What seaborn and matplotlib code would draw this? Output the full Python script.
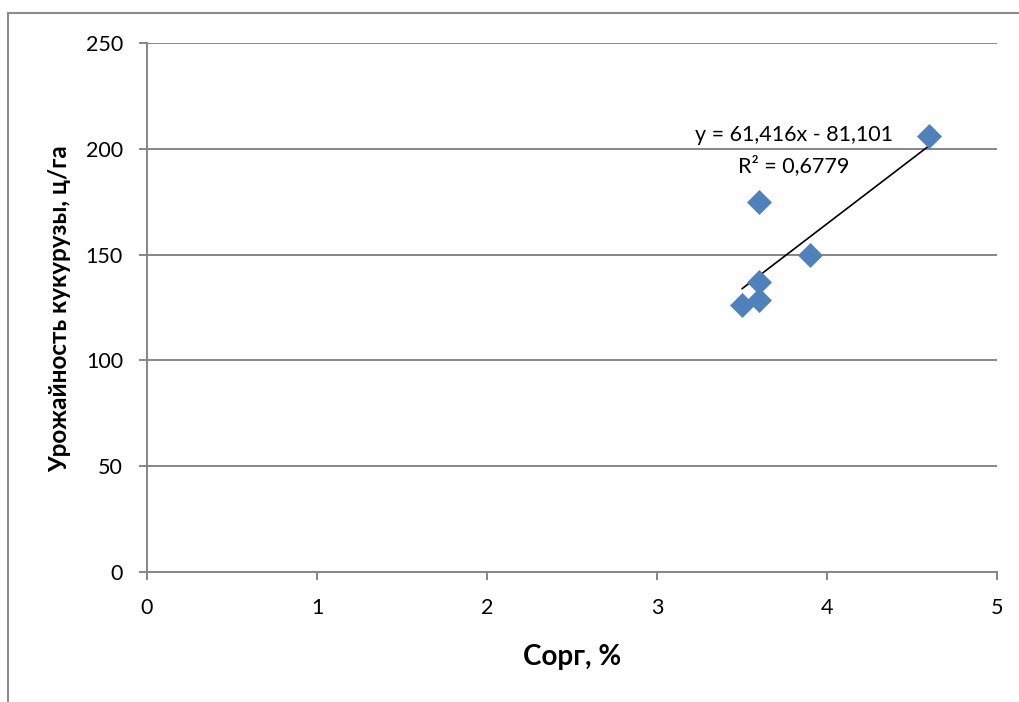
import matplotlib
matplotlib.use("Agg")
import matplotlib.pyplot as plt
import seaborn as sns
import numpy as np
import pandas as pd
from matplotlib.lines import Line2D

# Data
c_org = [4.6, 3.6, 3.9, 3.6, 3.6, 3.5]
yield_corn = [206, 175, 150, 137, 128.5, 126.2]
slope = 61.416
intercept = -81.101
r2_text = "R² = 0,6779"
eq_text = "y = 61,416x - 81,101"
x_ticks = [0, 1, 2, 3, 4, 5]
y_ticks = [0, 50, 100, 150, 200, 250]

sns.set_style("white")
plt.rcParams['font.family'] = ['Lato', 'DejaVu Sans']
plt.rcParams['text.color'] = 'black'

fig = plt.figure(figsize=(10.2, 7.02), dpi=100)
ax = fig.add_axes([147/1020, 1-572/702, (997-147)/1020, (572-43)/702])

df = pd.DataFrame({"x": c_org, "y": yield_corn})

# trendline
xs = np.array([min(c_org), max(c_org)])
trend = pd.DataFrame({"x": xs, "y": slope*xs + intercept})
sns.lineplot(data=trend, x="x", y="y", ax=ax, color="black", linewidth=1.2, zorder=2)

sns.scatterplot(data=df, x="x", y="y", ax=ax, marker="D", s=150, color="#4F81BD",
                edgecolor="#4F81BD", linewidth=0.5, zorder=3)

ax.set_xlim(0, 5)
ax.set_ylim(0, 250)
ax.set_xticks(x_ticks)
ax.set_yticks(y_ticks)
ax.set_xticklabels([str(v) for v in x_ticks])
ax.set_yticklabels([str(v) for v in y_ticks])
ax.yaxis.grid(True, color="#868686", linewidth=1.4)
ax.xaxis.grid(False)
for s in ["top", "right"]:
    ax.spines[s].set_visible(False)
for s in ["left", "bottom"]:
    ax.spines[s].set_color("#868686")
    ax.spines[s].set_linewidth(1.4)
ax.tick_params(axis="both", which="major", labelsize=15.5, length=5.8, width=1.4,
               color="#868686", labelcolor="black", direction="out", left=True, bottom=True)
ax.tick_params(axis="y", pad=11.5)
ax.tick_params(axis="x", pad=13.2)
ax.set_axisbelow(True)

ax.set_xlabel("Сорг, %", fontsize=20, fontweight="bold", color="black", va="baseline")
ax.xaxis.set_label_coords(0.5, (572-665)/529)
ax.set_ylabel("Урожайность кукурузы, ц/га", fontsize=17.5, fontweight="bold",
              color="black", va="center")
ax.yaxis.set_label_coords((60-147)/850, (572-309)/529)

ax.text(3.803, 203.7, eq_text, ha="center", va="baseline", fontsize=15.5, color="black")
ax.text(3.806, 189.0, r2_text, ha="center", va="baseline", fontsize=15.5, color="black")

# chart area frame (partially visible)
fig.add_artist(Line2D([8/1020, 8/1020], [0, 1-13/702], transform=fig.transFigure,
                      color="#8c8c8c", linewidth=1.5))
fig.add_artist(Line2D([8/1020, 1], [1-13/702, 1-13/702], transform=fig.transFigure,
                      color="#8c8c8c", linewidth=1.5))

fig.savefig("out.png", dpi=100)
